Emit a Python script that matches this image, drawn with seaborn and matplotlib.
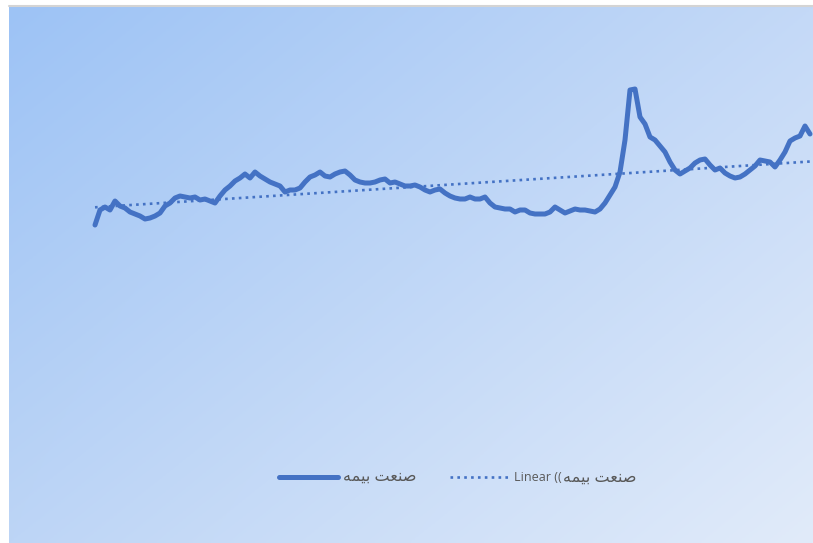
import numpy as np
import matplotlib
matplotlib.use("Agg")
from matplotlib import pyplot as plt
from matplotlib.lines import Line2D
import seaborn as sns

# series values (index level), evenly spaced in time
values = [
    750, 900, 930, 900, 990, 940, 920, 880, 860, 840,
    810, 820, 840, 870, 940, 970, 1020, 1040, 1030, 1020,
    1030, 1000, 1010, 990, 970, 1040, 1100, 1140, 1190, 1220,
    1260, 1220, 1280, 1240, 1210, 1180, 1160, 1140, 1080, 1100,
    1100, 1120, 1180, 1230, 1250, 1280, 1240, 1230, 1260, 1280,
    1290, 1250, 1200, 1180, 1170, 1170, 1180, 1200, 1210, 1170,
    1180, 1160, 1140, 1140, 1150, 1130, 1100, 1080, 1100, 1110,
    1070, 1040, 1020, 1010, 1010, 1030, 1010, 1010, 1030, 970,
    930, 920, 910, 910, 880, 900, 900, 870, 860, 860,
    860, 880, 930, 900, 870, 890, 910, 900, 900, 890,
    880, 910, 970, 1050, 1130, 1280, 1600, 2100, 2110, 1830,
    1760, 1630, 1600, 1540, 1480, 1380, 1300, 1260, 1290, 1320,
    1370, 1400, 1410, 1350, 1300, 1320, 1270, 1240, 1220, 1230,
    1260, 1300, 1340, 1400, 1390, 1380, 1330, 1400, 1480, 1590,
    1620, 1640, 1740, 1660,
]
# legend labels (Persian, written in shaped visual order since matplotlib has no bidi)
series_label = "\uFEEA\uFEE4\uFEF4\uFE91 \uFE96\uFECC\uFEE8\uFEBB"
trend_prefix = "Linear (("

blue = "#4472C4"
grey_text = "#595959"

sns.set_style("white")
plt.rcParams["font.family"] = ["Open Sans", "DejaVu Sans"]

fig = plt.figure(figsize=(8.13, 5.43), dpi=100)
fig.patch.set_facecolor("white")

# gradient chart area
x0 = 9 / 813
top = 1 - 7 / 543
bg = fig.add_axes([x0, 0, 1 - x0, top])
c_tl = np.array([157, 195, 245]) / 255
c_tr = np.array([196, 217, 247]) / 255
c_bl = np.array([189, 213, 246]) / 255
c_br = np.array([225, 235, 250]) / 255
u = np.linspace(0, 1, 200)[None, :, None]
v = np.linspace(0, 1, 200)[:, None, None]
grad = (c_tl * (1 - u) * (1 - v) + c_tr * u * (1 - v)
        + c_bl * (1 - u) * v + c_br * u * v)
bg.imshow(grad, aspect="auto", extent=[0, 1, 0, 1], origin="upper")
bg.set_axis_off()
fig.add_artist(Line2D([x0, 1], [top + 0.002, top + 0.002], transform=fig.transFigure,
                      color="#D4D4D4", lw=1.5))

ax = fig.add_axes([0, 0, 1, 1])
ax.patch.set_alpha(0)
idx = np.arange(len(values))

sns.lineplot(x=idx, y=values, ax=ax, color=blue, lw=3.6, label=series_label,
             solid_capstyle="round", solid_joinstyle="round")
sns.regplot(x=idx, y=values, ax=ax, scatter=False, ci=None, label=trend_prefix,
            line_kws=dict(color=blue, lw=1.9, linestyle=(0, (1, 1.6))))

ax.set_xlim(-19, 143.6)
ax.set_ylim(-2430, 3000)
ax.set_axis_off()

leg_y = 1 - 477 / 543
leg = ax.legend(loc="center left", bbox_to_anchor=(273 / 813, leg_y), ncol=2,
                frameon=False, borderpad=0, handlelength=4.7, handletextpad=0.4,
                columnspacing=2.7, fontsize=9)
texts = leg.get_texts()
for t in texts:
    t.set_color(grey_text)
texts[0].set_fontsize(11.5)

# Persian part of the trend label, larger like the original Arabic face
fig.canvas.draw()
bb = texts[1].get_window_extent()
W, H = fig.canvas.get_width_height()
fig.text((bb.x1 + 1) / W, (bb.y0 + bb.y1) / 2 / H, series_label, fontsize=11.5,
         color=grey_text, ha="left", va="center")

fig.savefig("out.png", dpi=100)
